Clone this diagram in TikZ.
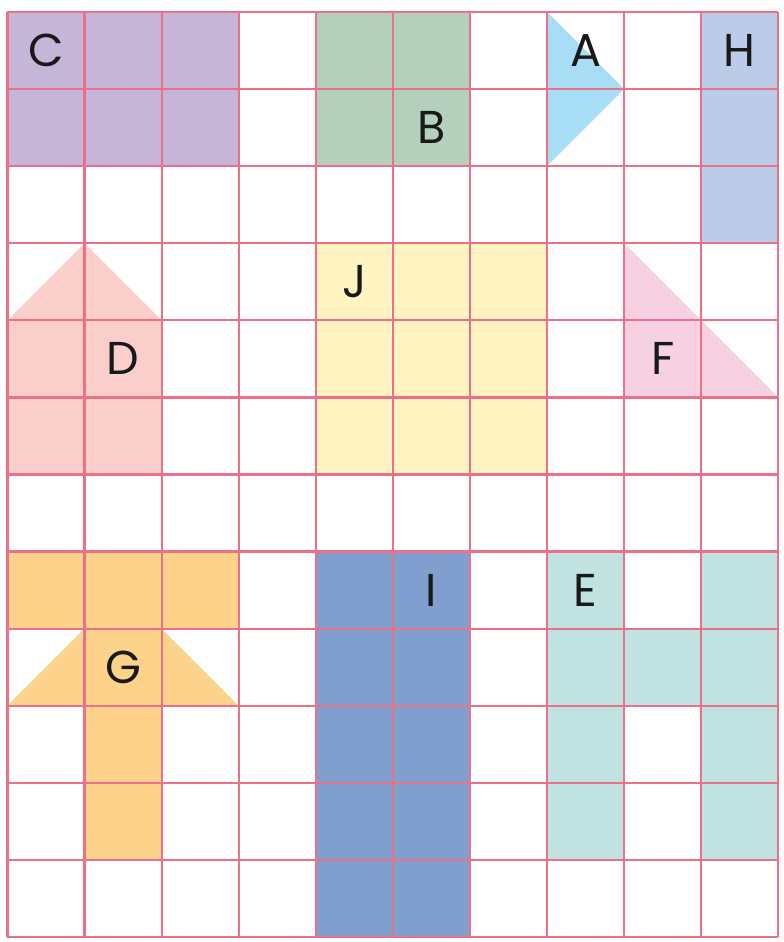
\documentclass[tikz,border=0pt]{standalone}
\usepackage{fontspec}
\setmainfont{Poppins}

\definecolor{gridpink}{HTML}{EC7087}
\definecolor{cPurple}{HTML}{C5B6D8}
\definecolor{cGreen}{HTML}{B4D0BC}
\definecolor{cSky}{HTML}{A8DEF5}
\definecolor{cLavBlue}{HTML}{BBCBE8}
\definecolor{cSalmon}{HTML}{FACFCB}
\definecolor{cYellow}{HTML}{FFF3C1}
\definecolor{cRose}{HTML}{F7D0E2}
\definecolor{cOrange}{HTML}{FDD38C}
\definecolor{cSteel}{HTML}{819FCE}
\definecolor{cTeal}{HTML}{C0E3E1}

\tikzset{
  gridline/.style={gridpink,line width=0.8pt},
  letter/.style={font=\fontsize{17}{20}\selectfont,text=black!90}
}

\begin{document}
\begin{tikzpicture}

\useasboundingbox (-0.097,-0.065) rectangle (10.065,12.156);

%------------------------------------------------
% Coloured shapes
%------------------------------------------------
% C
\fill[cPurple] (0,10) rectangle (3,12);
% B
\fill[cGreen] (4,10) rectangle (6,12);
% A
\fill[cSky] (7,12)--(8,11)--(7,10)--cycle;
% H
\fill[cLavBlue] (9,9) rectangle (10,12);
% D
\fill[cSalmon] (0,6)--(0,8)--(1,9)--(2,8)--(2,6)--cycle;
% J
\fill[cYellow] (4,6) rectangle (7,9);
% F
\fill[cRose] (8,9)--(10,7)--(8,7)--cycle;
% G
\fill[cOrange] (0,5)--(3,5)--(3,4)--(2,4)--(3,3)--(2,3)--(2,1)--(1,1)
  --(1,3)--(0,3)--(1,4)--(0,4)--cycle;
% I
\fill[cSteel] (4,0) rectangle (6,5);
% E
\fill[cTeal] (7,1) rectangle (8,5);
\fill[cTeal] (9,1) rectangle (10,5);
\fill[cTeal] (8,3) rectangle (9,4);

%------------------------------------------------
% Grid
%------------------------------------------------
\draw[gridline] (0,0) grid (10,12);

%------------------------------------------------
% Letters
%------------------------------------------------
\node[letter] (lC) at (0.5,11.5) {C};
\node[letter] (lB) at (5.5,10.5) {B};
\node[letter] (lA) at (7.5,11.5) {A};
\node[letter] (lH) at (9.5,11.5) {H};
\node[letter] (lJ) at (4.5,8.5) {J};
\node[letter] (lD) at (1.5,7.5) {D};
\node[letter] (lF) at (8.5,7.5) {F};
\node[letter] (lG) at (1.5,3.5) {G};
\node[letter] (lI) at (5.5,4.5) {I};
\node[letter] (lE) at (7.5,4.5) {E};

\end{tikzpicture}
\end{document}
